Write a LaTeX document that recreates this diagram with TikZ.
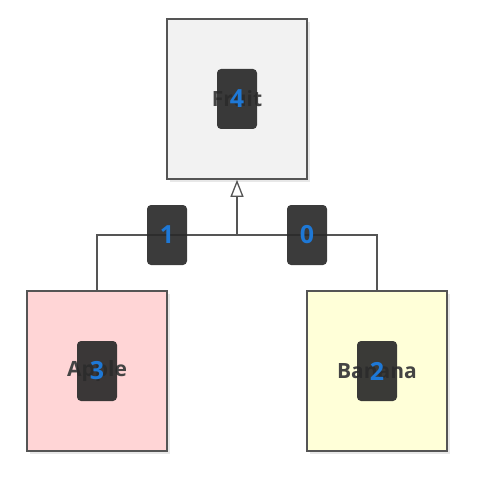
\documentclass[tikz,border=0pt]{standalone}
\usepackage{fontspec}
\setmainfont{Open Sans}
\usetikzlibrary{arrows.meta,shadows}
\definecolor{edge}{HTML}{555555}
\definecolor{txt}{HTML}{444444}
\definecolor{badgebg}{HTML}{2A2A2A}
\definecolor{badgefg}{HTML}{1E78D6}
\definecolor{fruitbg}{HTML}{F2F2F2}
\definecolor{applebg}{HTML}{FFD5D6}
\definecolor{bananabg}{HTML}{FFFFD8}
\tikzset{
  cls/.style={draw=edge, line width=1.6pt, minimum width=140pt, minimum height=160pt, inner sep=0pt,
    font=\bfseries\fontsize{21}{24}\selectfont, text=txt,
    drop shadow={opacity=0.18, shadow xshift=3pt, shadow yshift=-3pt}},
  badge/.style={fill=badgebg, fill opacity=0.92, text opacity=1, rounded corners=4pt, minimum width=40pt, minimum height=60pt,
    inner sep=0pt, text=badgefg, font=\bfseries\fontsize{25}{28}\selectfont},
  conn/.style={draw=edge, line width=1.3pt},
}
\begin{document}
\begin{tikzpicture}[x=1pt,y=-1pt]
\useasboundingbox (0,0) rectangle (476,481);
\node[cls, fill=fruitbg] (fruit) at (237,99) {Fruit};
\node[cls, fill=applebg] (apple) at (97,371) {Apple};
\node[cls, fill=bananabg] (banana) at (377,371) {Banana};
\coordinate (j) at (237,235);
\draw[conn] (apple.north) |- (j);
\draw[conn] (banana.north) |- (j);
\draw[conn, -{Triangle[open, length=17pt, width=13pt, fill=white]}] (j) -- (fruit.south);
\node[badge] (b4) at (237,99) {4};
\node[badge] (b1) at (167,235) {1};
\node[badge] (b0) at (307,235) {0};
\node[badge] (b3) at (97,371) {3};
\node[badge] (b2) at (377,371) {2};
\end{tikzpicture}
\end{document}
